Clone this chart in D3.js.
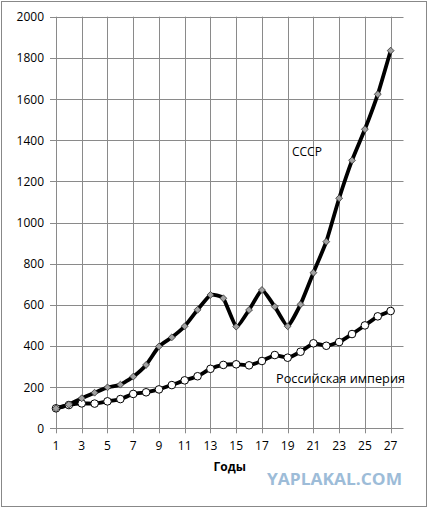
<!DOCTYPE html>
<html>
<head>
<meta charset="utf-8">
<script src="https://cdn.jsdelivr.net/npm/d3@7"></script>
<style>
  body { margin: 0; background: #fff; }
  text { font-family: "Open Sans", "Liberation Sans", Arial, sans-serif; }
</style>
</head>
<body>
<div id="chart"></div>
<script>
// годы 1..27
var years = d3.range(1, 28);
var xTicks = [1, 3, 5, 7, 9, 11, 13, 15, 17, 19, 21, 23, 25, 27];
var yTicks = [0, 200, 400, 600, 800, 1000, 1200, 1400, 1600, 1800, 2000];

var ussr = [97, 115, 146, 173, 199, 212, 251, 308, 398, 442, 496, 576, 648, 632, 494,
            575, 672, 591, 496, 602, 756, 907, 1118, 1302, 1453, 1623, 1835];
var empire = [97, 113, 121, 120, 131, 142, 167, 175, 189, 210, 233, 253, 289, 308, 311,
              306, 327, 356, 343, 372, 413, 401, 419, 458, 500, 544, 570];

var W = 428, H = 508;
var svg = d3.select("#chart").append("svg")
  .attr("width", W)
  .attr("height", H);

// outer frame
svg.append("rect")
  .attr("x", 1.5).attr("y", 1.5)
  .attr("width", W - 3).attr("height", H - 3)
  .attr("fill", "#fff")
  .attr("stroke", "#888")
  .attr("stroke-width", 1);

var x = d3.scaleLinear().domain([1, 28]).range([56, 403.5]);
var y = d3.scaleLinear().domain([0, 2000]).range([428.3, 16.7]);

var grid = svg.append("g").attr("class", "grid");

// horizontal gridlines + left ticks
grid.selectAll("line.h")
  .data(yTicks)
  .enter().append("line")
  .attr("class", "h")
  .attr("x1", x(1) - 6).attr("x2", x(28))
  .attr("y1", function(d) { return Math.round(y(d)) + 0.5; })
  .attr("y2", function(d) { return Math.round(y(d)) + 0.5; })
  .attr("stroke", "#8a8a8a");

// vertical gridlines + bottom ticks
grid.selectAll("line.v")
  .data(xTicks)
  .enter().append("line")
  .attr("class", "v")
  .attr("x1", function(d) { return Math.round(x(d)) + 0.5; })
  .attr("x2", function(d) { return Math.round(x(d)) + 0.5; })
  .attr("y1", y(2000)).attr("y2", y(0) + 5)
  .attr("stroke", "#8a8a8a");

// tick labels
svg.selectAll("text.yl")
  .data(yTicks)
  .enter().append("text")
  .attr("class", "yl")
  .attr("x", 44)
  .attr("y", function(d) { return y(d) + 4.5; })
  .attr("text-anchor", "end")
  .attr("font-size", 12)
  .attr("fill", "#000")
  .text(function(d) { return d; });

svg.selectAll("text.xl")
  .data(xTicks)
  .enter().append("text")
  .attr("class", "xl")
  .attr("x", function(d) { return x(d); })
  .attr("y", 450)
  .attr("text-anchor", "middle")
  .attr("font-size", 12)
  .attr("fill", "#000")
  .text(function(d) { return d; });

svg.append("text")
  .attr("x", (x(1) + x(28)) / 2)
  .attr("y", 471)
  .attr("text-anchor", "middle")
  .attr("font-size", 12)
  .attr("font-weight", "bold")
  .text("Годы");

var line = d3.line()
  .x(function(d, i) { return x(years[i]); })
  .y(function(d) { return y(d); })
  .curve(d3.curveCardinal.tension(0.55));

function drawSeries(vals) {
  svg.append("path")
    .datum(vals)
    .attr("fill", "none")
    .attr("stroke", "#000")
    .attr("stroke-width", 3.8)
    .attr("stroke-linejoin", "round")
    .attr("d", line);
}

drawSeries(empire);
drawSeries(ussr);

// empire markers: white circles
svg.selectAll("circle.emp")
  .data(empire)
  .enter().append("circle")
  .attr("class", "emp")
  .attr("cx", function(d, i) { return x(years[i]); })
  .attr("cy", function(d) { return y(d); })
  .attr("r", 3.8)
  .attr("fill", "#fff")
  .attr("stroke", "#000")
  .attr("stroke-width", 1);

// ussr markers: grey diamonds
svg.selectAll("path.ussr")
  .data(ussr)
  .enter().append("path")
  .attr("class", "ussr")
  .attr("d", d3.symbol().type(d3.symbolDiamond2).size(30))
  .attr("transform", function(d, i) { return "translate(" + x(years[i]) + "," + y(d) + ")"; })
  .attr("fill", "#a0a0a0")
  .attr("stroke", "#333")
  .attr("stroke-width", 0.8);

// series labels
svg.append("text")
  .attr("x", 292)
  .attr("y", 156)
  .attr("font-size", 12)
  .text("СССР");

svg.append("text")
  .attr("x", 276)
  .attr("y", 383)
  .attr("font-size", 12)
  .attr("textLength", 129)
  .attr("lengthAdjust", "spacingAndGlyphs")
  .text("Российская империя");

// watermark
svg.append("text")
  .attr("x", 267)
  .attr("y", 485)
  .attr("font-family", "DejaVu Sans")
  .attr("font-size", 16)
  .attr("font-weight", "bold")
  .attr("textLength", 135)
  .attr("lengthAdjust", "spacingAndGlyphs")
  .attr("fill", "#9dbcd8")
  .text("YAPLAKAL.COM");
</script>
</body>
</html>
